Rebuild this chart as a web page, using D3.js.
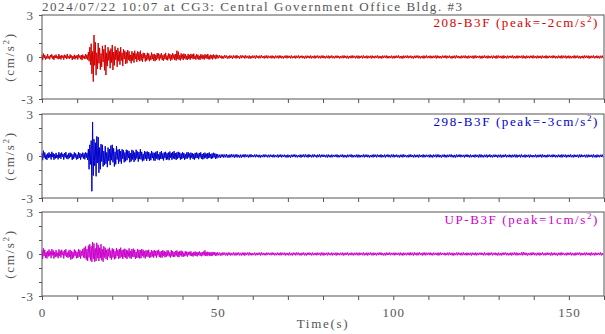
<!DOCTYPE html>
<html><head><meta charset="utf-8">
<script src="https://cdn.jsdelivr.net/npm/d3@7"></script>
<style>body{margin:0;background:#fff}svg{display:block}text{font-family:"Liberation Serif","Times New Roman",serif}</style>
</head><body><svg id="c" width="605" height="334"></svg>
<script>
const title = "2024/07/22 10:07 at CG3: Central Government Office Bldg. #3";
const channels = ["208-B3F", "298-B3F", "UP-B3F"];
const peaks = ["-2", "-3", "1"];
const colors = ["#d40000", "#0000cc", "#cc00cc"];
const xTickLabels = [0, 50, 100, 150];
const yTickLabels = [-3, 0, 3];
const strongStep = 0.2, tailStart = 50, tailStep = 0.25;

// 208-B3F, 0–50 s every 0.2 s
const ch208Strong = [
0.12,-0.22,0.25,-0.08,0.15,-0.18,0.05,-0.12,0.20,-0.10,
0.06,-0.17,0.14,-0.04,0.19,-0.13,0.08,-0.20,0.11,-0.06,
0.17,-0.09,0.04,-0.16,0.21,-0.11,0.09,-0.18,0.13,-0.05,
0.10,-0.19,0.16,-0.07,0.12,-0.15,0.22,-0.09,0.05,-0.14,
0.18,-0.06,0.11,-0.21,0.07,-0.12,0.16,-0.17,0.09,-0.08,
0.14,-0.18,0.20,-0.05,0.10,-0.16,0.13,-0.22,0.17,-0.09,
0.08,-0.15,0.21,-0.12,0.16,-0.19,0.35,-0.30,0.70,-0.55,
0.95,-1.20,0.40,-1.76,1.57,-0.60,1.05,-1.30,0.30,-0.85,
1.00,-0.45,0.65,-0.90,0.25,-0.70,0.80,-0.35,0.55,-0.95,
0.86,-1.29,0.30,-0.65,0.70,-0.25,0.45,-0.80,0.60,-0.40,
0.86,-0.93,0.35,-0.60,0.75,-0.20,0.50,-0.70,0.65,-0.30,
0.40,-0.55,0.70,-0.25,0.30,-0.65,0.55,-0.15,0.45,-0.50,
0.35,-0.45,0.50,-0.20,0.40,-0.30,0.15,-0.45,0.42,-0.25,
0.30,-0.40,0.45,-0.15,0.25,-0.35,0.40,-0.20,0.35,-0.30,
0.45,-0.25,0.20,-0.35,0.30,-0.10,0.28,-0.32,0.15,-0.25,
0.30,-0.18,0.25,-0.30,0.10,-0.22,0.32,-0.15,0.20,-0.28,
0.22,-0.30,0.15,-0.20,0.28,-0.12,0.25,-0.25,0.18,-0.10,
0.28,-0.22,0.12,-0.27,0.20,-0.15,0.30,-0.20,0.10,-0.24,
0.25,-0.12,0.22,-0.26,0.15,-0.20,0.27,-0.10,0.18,-0.22,
0.20,-0.25,0.45,-0.15,0.38,-0.20,0.12,-0.24,0.26,-0.12,
0.18,-0.22,0.24,-0.10,0.20,-0.18,0.08,-0.20,0.22,-0.14,
0.15,-0.20,0.22,-0.08,0.18,-0.16,0.24,-0.12,0.10,-0.19,
0.20,-0.12,0.16,-0.18,0.08,-0.20,0.19,-0.10,0.17,-0.15,
0.12,-0.18,0.20,-0.08,0.15,-0.14,0.22,-0.16,0.10,-0.17,
0.16,-0.10,0.14,-0.17,0.18,-0.08,0.12,-0.15,0.17,-0.11];
// 208-B3F, 50–160 s every 0.25 s
const ch208Tail = [
0.12,-0.09,0.14,-0.07,0.10,-0.13,0.08,-0.11,0.13,-0.06,0.11,-0.12,0.07,-0.10,0.12,-0.08,0.09,-0.13,0.11,-0.07,
0.10,-0.11,0.13,-0.08,0.07,-0.12,0.11,-0.09,0.12,-0.06,0.09,-0.11,0.12,-0.08,0.08,-0.10,0.11,-0.12,0.07,-0.09,
0.11,-0.08,0.09,-0.11,0.12,-0.07,0.08,-0.10,0.10,-0.09,0.12,-0.06,0.07,-0.11,0.10,-0.08,0.11,-0.10,0.09,-0.07,
0.08,-0.10,0.11,-0.09,0.07,-0.11,0.10,-0.06,0.09,-0.10,0.11,-0.08,0.10,-0.09,0.07,-0.11,0.09,-0.07,0.11,-0.10,
0.10,-0.07,0.08,-0.10,0.11,-0.09,0.06,-0.08,0.10,-0.11,0.09,-0.07,0.11,-0.10,0.08,-0.06,0.10,-0.09,0.07,-0.11,
0.09,-0.10,0.10,-0.07,0.08,-0.09,0.11,-0.10,0.07,-0.08,0.10,-0.11,0.09,-0.06,0.11,-0.09,0.08,-0.10,0.10,-0.08,
0.11,-0.09,0.07,-0.10,0.09,-0.08,0.10,-0.11,0.08,-0.07,0.11,-0.09,0.06,-0.10,0.09,-0.08,0.10,-0.07,0.08,-0.11,
0.07,-0.08,0.10,-0.09,0.11,-0.07,0.08,-0.10,0.09,-0.11,0.07,-0.08,0.10,-0.09,0.11,-0.06,0.08,-0.10,0.09,-0.09,
0.10,-0.11,0.08,-0.07,0.09,-0.10,0.11,-0.08,0.06,-0.09,0.10,-0.10,0.08,-0.07,0.09,-0.11,0.10,-0.08,0.07,-0.09,
0.09,-0.07,0.11,-0.10,0.08,-0.09,0.07,-0.11,0.10,-0.08,0.09,-0.06,0.11,-0.10,0.08,-0.09,0.07,-0.08,0.10,-0.10,
0.08,-0.10,0.09,-0.08,0.10,-0.07,0.11,-0.09,0.07,-0.10,0.08,-0.11,0.10,-0.08,0.09,-0.07,0.11,-0.09,0.08,-0.06,
0.10,-0.09,0.07,-0.11,0.09,-0.08,0.10,-0.06,0.11,-0.09,0.08,-0.10,0.07,-0.08,0.10,-0.11,0.09,-0.07,0.11,-0.09,
0.07,-0.08,0.10,-0.10,0.08,-0.09,0.09,-0.07,0.10,-0.11,0.11,-0.08,0.08,-0.09,0.07,-0.10,0.10,-0.06,0.09,-0.08,
0.11,-0.10,0.08,-0.07,0.10,-0.09,0.07,-0.11,0.09,-0.08,0.10,-0.10,0.11,-0.07,0.08,-0.09,0.06,-0.10,0.10,-0.08,
0.09,-0.08,0.11,-0.09,0.07,-0.10,0.10,-0.08,0.08,-0.07,0.09,-0.11,0.10,-0.09,0.11,-0.08,0.07,-0.06,0.09,-0.10,
0.08,-0.11,0.09,-0.07,0.11,-0.08,0.08,-0.10,0.10,-0.09,0.07,-0.08,0.09,-0.10,0.10,-0.07,0.08,-0.11,0.11,-0.09,
0.10,-0.07,0.08,-0.09,0.09,-0.11,0.11,-0.08,0.07,-0.10,0.10,-0.09,0.08,-0.06,0.09,-0.08,0.11,-0.10,0.07,-0.09,
0.09,-0.10,0.10,-0.08,0.08,-0.07,0.09,-0.10,0.11,-0.09,0.07,-0.11,0.10,-0.08,0.08,-0.09,0.09,-0.07,0.10,-0.10,
0.11,-0.08,0.07,-0.10,0.10,-0.09,0.08,-0.08,0.09,-0.11,0.10,-0.07,0.07,-0.09,0.11,-0.10,0.08,-0.08,0.09,-0.06,
0.08,-0.09,0.11,-0.07,0.09,-0.10,0.07,-0.09,0.10,-0.08,0.08,-0.10,0.11,-0.09,0.09,-0.07,0.10,-0.11,0.08,-0.08,
0.10,-0.10,0.08,-0.09,0.07,-0.08,0.11,-0.10,0.09,-0.07,0.10,-0.09,0.08,-0.11,0.07,-0.08,0.09,-0.10,0.11,-0.07,
0.09,-0.08,0.10,-0.11,0.08,-0.09,0.09,-0.07,0.11,-0.10,0.07,-0.08,0.10,-0.09,0.08,-0.10,0.09,-0.08,0.10,-0.09];

// 298-B3F
const ch298Strong = [
0.20,-0.30,0.38,-0.12,0.25,-0.22,0.10,-0.28,0.18,-0.15,
0.26,-0.10,0.15,-0.25,0.30,-0.08,0.20,-0.27,0.12,-0.18,
0.22,-0.14,0.08,-0.24,0.27,-0.12,0.18,-0.20,0.25,-0.06,
0.14,-0.26,0.21,-0.10,0.28,-0.18,0.09,-0.23,0.20,-0.15,
0.24,-0.08,0.17,-0.28,0.12,-0.20,0.26,-0.11,0.19,-0.25,
0.10,-0.22,0.28,-0.14,0.20,-0.26,0.15,-0.09,0.24,-0.19,
0.18,-0.24,0.26,-0.12,0.22,-0.28,0.50,-0.95,0.80,-0.60,
1.10,-2.52,2.43,-1.40,1.20,-0.70,0.95,-1.45,1.40,-0.50,
1.35,-1.20,0.60,-0.95,0.85,-0.40,0.80,-0.75,0.35,-0.65,
0.70,-0.55,0.25,-0.80,0.60,-0.35,0.50,-0.65,0.75,-0.30,
0.80,-0.45,0.55,-0.75,0.30,-0.60,0.70,-0.25,0.45,-0.55,
0.50,-0.40,0.35,-0.55,0.48,-0.20,0.42,-0.45,0.25,-0.38,
0.45,-0.30,0.40,-0.15,0.35,-0.45,0.20,-0.38,0.44,-0.25,
0.38,-0.42,0.25,-0.30,0.45,-0.18,0.33,-0.40,0.28,-0.22,
0.48,-0.25,0.30,-0.38,0.15,-0.32,0.35,-0.20,0.30,-0.35,
0.32,-0.20,0.28,-0.35,0.18,-0.30,0.36,-0.15,0.25,-0.32,
0.22,-0.34,0.30,-0.18,0.35,-0.25,0.12,-0.30,0.28,-0.20,
0.35,-0.22,0.18,-0.32,0.26,-0.15,0.30,-0.28,0.20,-0.24,
0.25,-0.30,0.32,-0.12,0.22,-0.27,0.28,-0.18,0.35,-0.22,
0.20,-0.28,0.26,-0.20,0.30,-0.14,0.24,-0.26,0.18,-0.22,
0.26,-0.15,0.22,-0.27,0.12,-0.20,0.25,-0.18,0.28,-0.10,
0.18,-0.25,0.24,-0.12,0.20,-0.22,0.15,-0.26,0.22,-0.16,
0.25,-0.14,0.18,-0.23,0.22,-0.10,0.26,-0.20,0.14,-0.24,
0.20,-0.18,0.24,-0.12,0.16,-0.22,0.21,-0.15,0.25,-0.13,
0.14,-0.21,0.18,-0.16,0.23,-0.10,0.19,-0.20,0.15,-0.17];
const ch298Tail = [
0.13,-0.10,0.09,-0.14,0.11,-0.08,0.12,-0.12,0.10,-0.09,0.14,-0.11,0.08,-0.12,0.11,-0.10,0.13,-0.08,0.10,-0.12,
0.11,-0.09,0.12,-0.10,0.08,-0.11,0.10,-0.12,0.09,-0.08,0.12,-0.10,0.11,-0.07,0.09,-0.11,0.10,-0.09,0.12,-0.08,
0.07,-0.08,0.10,-0.09,0.11,-0.07,0.08,-0.10,0.09,-0.11,0.07,-0.08,0.10,-0.09,0.11,-0.06,0.08,-0.10,0.09,-0.09,
0.10,-0.07,0.08,-0.10,0.11,-0.09,0.06,-0.08,0.10,-0.11,0.09,-0.07,0.11,-0.10,0.08,-0.06,0.10,-0.09,0.07,-0.11,
0.10,-0.09,0.07,-0.11,0.09,-0.08,0.10,-0.06,0.11,-0.09,0.08,-0.10,0.07,-0.08,0.10,-0.11,0.09,-0.07,0.11,-0.09,
0.11,-0.08,0.09,-0.11,0.12,-0.07,0.08,-0.10,0.10,-0.09,0.12,-0.06,0.07,-0.11,0.10,-0.08,0.11,-0.10,0.09,-0.07,
0.10,-0.07,0.08,-0.09,0.09,-0.11,0.11,-0.08,0.07,-0.10,0.10,-0.09,0.08,-0.06,0.09,-0.08,0.11,-0.10,0.07,-0.09,
0.09,-0.07,0.11,-0.10,0.08,-0.09,0.07,-0.11,0.10,-0.08,0.09,-0.06,0.11,-0.10,0.08,-0.09,0.07,-0.08,0.10,-0.10,
0.10,-0.10,0.08,-0.09,0.07,-0.08,0.11,-0.10,0.09,-0.07,0.10,-0.09,0.08,-0.11,0.07,-0.08,0.09,-0.10,0.11,-0.07,
0.09,-0.10,0.10,-0.07,0.08,-0.09,0.11,-0.10,0.07,-0.08,0.10,-0.11,0.09,-0.06,0.11,-0.09,0.08,-0.10,0.10,-0.08,
0.11,-0.10,0.08,-0.07,0.10,-0.09,0.07,-0.11,0.09,-0.08,0.10,-0.10,0.11,-0.07,0.08,-0.09,0.06,-0.10,0.10,-0.08,
0.11,-0.08,0.07,-0.10,0.10,-0.09,0.08,-0.08,0.09,-0.11,0.10,-0.07,0.07,-0.09,0.11,-0.10,0.08,-0.08,0.09,-0.06,
0.08,-0.10,0.11,-0.09,0.07,-0.11,0.10,-0.06,0.09,-0.10,0.11,-0.08,0.10,-0.09,0.07,-0.11,0.09,-0.07,0.11,-0.10,
0.08,-0.10,0.09,-0.08,0.10,-0.07,0.11,-0.09,0.07,-0.10,0.08,-0.11,0.10,-0.08,0.09,-0.07,0.11,-0.09,0.08,-0.06,
0.08,-0.11,0.09,-0.07,0.11,-0.08,0.08,-0.10,0.10,-0.09,0.07,-0.08,0.09,-0.10,0.10,-0.07,0.08,-0.11,0.11,-0.09,
0.11,-0.09,0.07,-0.10,0.09,-0.08,0.10,-0.11,0.08,-0.07,0.11,-0.09,0.06,-0.10,0.09,-0.08,0.10,-0.07,0.08,-0.11,
0.09,-0.08,0.10,-0.11,0.08,-0.09,0.09,-0.07,0.11,-0.10,0.07,-0.08,0.10,-0.09,0.08,-0.10,0.09,-0.08,0.10,-0.09,
0.10,-0.11,0.08,-0.07,0.09,-0.10,0.11,-0.08,0.06,-0.09,0.10,-0.10,0.08,-0.07,0.09,-0.11,0.10,-0.08,0.07,-0.09,
0.07,-0.08,0.10,-0.10,0.08,-0.09,0.09,-0.07,0.10,-0.11,0.11,-0.08,0.08,-0.09,0.07,-0.10,0.10,-0.06,0.09,-0.08,
0.08,-0.09,0.11,-0.07,0.09,-0.10,0.07,-0.09,0.10,-0.08,0.08,-0.10,0.11,-0.09,0.09,-0.07,0.10,-0.11,0.08,-0.08,
0.09,-0.08,0.11,-0.09,0.07,-0.10,0.10,-0.08,0.08,-0.07,0.09,-0.11,0.10,-0.09,0.11,-0.08,0.07,-0.06,0.09,-0.10,
0.09,-0.10,0.10,-0.08,0.08,-0.07,0.09,-0.10,0.11,-0.09,0.07,-0.11,0.10,-0.08,0.08,-0.09,0.09,-0.07,0.10,-0.10];

// UP-B3F
const chUpStrong = [
0.25,-0.35,0.40,-0.15,0.30,-0.28,0.12,-0.32,0.22,-0.18,
0.32,-0.12,0.18,-0.30,0.35,-0.10,0.26,-0.33,0.15,-0.22,
0.28,-0.18,0.10,-0.30,0.33,-0.15,0.24,-0.26,0.30,-0.08,
0.18,-0.32,0.27,-0.12,0.34,-0.22,0.11,-0.28,0.25,-0.20,
0.30,-0.40,0.22,-0.35,0.15,-0.25,0.32,-0.14,0.24,-0.30,
0.15,-0.28,0.35,-0.20,0.28,-0.33,0.20,-0.12,0.36,-0.25,
0.45,-0.30,0.55,-0.40,0.35,-0.50,0.60,-0.25,0.70,-0.45,
0.55,-0.57,0.86,-0.35,0.75,-0.55,0.40,-0.50,0.80,-0.30,
0.65,-0.50,0.45,-0.30,0.70,-0.45,0.35,-0.55,0.55,-0.25,
0.45,-0.35,0.30,-0.42,0.38,-0.18,0.45,-0.30,0.25,-0.40,
0.40,-0.25,0.35,-0.38,0.20,-0.32,0.42,-0.15,0.30,-0.35,
0.35,-0.30,0.45,-0.20,0.28,-0.36,0.32,-0.22,0.38,-0.28,
0.30,-0.35,0.25,-0.18,0.40,-0.30,0.22,-0.34,0.35,-0.20,
0.38,-0.22,0.30,-0.35,0.15,-0.28,0.36,-0.25,0.30,-0.32,
0.28,-0.30,0.35,-0.15,0.30,-0.25,0.20,-0.32,0.27,-0.18,
0.25,-0.20,0.30,-0.28,0.12,-0.24,0.28,-0.18,0.22,-0.26,
0.28,-0.15,0.22,-0.26,0.25,-0.10,0.30,-0.22,0.18,-0.25,
0.20,-0.26,0.27,-0.14,0.22,-0.24,0.15,-0.20,0.26,-0.12,
0.24,-0.18,0.12,-0.25,0.28,-0.16,0.20,-0.22,0.14,-0.20,
0.22,-0.12,0.25,-0.20,0.16,-0.23,0.20,-0.10,0.24,-0.18,
0.18,-0.20,0.10,-0.16,0.20,-0.12,0.17,-0.19,0.14,-0.08,
0.16,-0.12,0.19,-0.15,0.08,-0.18,0.15,-0.10,0.18,-0.14,
0.12,-0.17,0.15,-0.08,0.18,-0.13,0.10,-0.16,0.14,-0.11,
0.17,-0.10,0.26,-0.14,0.12,-0.15,0.16,-0.09,0.13,-0.15,
0.10,-0.14,0.15,-0.11,0.12,-0.08,0.14,-0.13,0.09,-0.12];
const chUpTail = [
0.12,-0.09,0.10,-0.12,0.08,-0.11,0.12,-0.07,0.10,-0.10,0.09,-0.12,0.11,-0.08,0.10,-0.11,0.07,-0.09,0.12,-0.10,
0.09,-0.11,0.10,-0.08,0.11,-0.10,0.08,-0.11,0.10,-0.09,0.11,-0.12,0.09,-0.07,0.10,-0.10,0.12,-0.09,0.08,-0.10,
0.07,-0.08,0.10,-0.10,0.08,-0.09,0.09,-0.07,0.10,-0.11,0.11,-0.08,0.08,-0.09,0.07,-0.10,0.10,-0.06,0.09,-0.08,
0.08,-0.09,0.11,-0.07,0.09,-0.10,0.07,-0.09,0.10,-0.08,0.08,-0.10,0.11,-0.09,0.09,-0.07,0.10,-0.11,0.08,-0.08,
0.08,-0.10,0.11,-0.09,0.07,-0.11,0.10,-0.06,0.09,-0.10,0.11,-0.08,0.10,-0.09,0.07,-0.11,0.09,-0.07,0.11,-0.10,
0.08,-0.11,0.09,-0.07,0.11,-0.08,0.08,-0.10,0.10,-0.09,0.07,-0.08,0.09,-0.10,0.10,-0.07,0.08,-0.11,0.11,-0.09,
0.10,-0.11,0.08,-0.07,0.09,-0.10,0.11,-0.08,0.06,-0.09,0.10,-0.10,0.08,-0.07,0.09,-0.11,0.10,-0.08,0.07,-0.09,
0.09,-0.08,0.10,-0.11,0.08,-0.09,0.09,-0.07,0.11,-0.10,0.07,-0.08,0.10,-0.09,0.08,-0.10,0.09,-0.08,0.10,-0.09,
0.09,-0.10,0.10,-0.07,0.08,-0.09,0.11,-0.10,0.07,-0.08,0.10,-0.11,0.09,-0.06,0.11,-0.09,0.08,-0.10,0.10,-0.08,
0.08,-0.10,0.09,-0.08,0.10,-0.07,0.11,-0.09,0.07,-0.10,0.08,-0.11,0.10,-0.08,0.09,-0.07,0.11,-0.09,0.08,-0.06,
0.09,-0.10,0.10,-0.08,0.08,-0.07,0.09,-0.10,0.11,-0.09,0.07,-0.11,0.10,-0.08,0.08,-0.09,0.09,-0.07,0.10,-0.10,
0.11,-0.08,0.09,-0.11,0.12,-0.07,0.08,-0.10,0.10,-0.09,0.12,-0.06,0.07,-0.11,0.10,-0.08,0.11,-0.10,0.09,-0.07,
0.09,-0.08,0.11,-0.09,0.07,-0.10,0.10,-0.08,0.08,-0.07,0.09,-0.11,0.10,-0.09,0.11,-0.08,0.07,-0.06,0.09,-0.10,
0.07,-0.08,0.10,-0.09,0.11,-0.07,0.08,-0.10,0.09,-0.11,0.07,-0.08,0.10,-0.09,0.11,-0.06,0.08,-0.10,0.09,-0.09,
0.11,-0.08,0.07,-0.10,0.10,-0.09,0.08,-0.08,0.09,-0.11,0.10,-0.07,0.07,-0.09,0.11,-0.10,0.08,-0.08,0.09,-0.06,
0.10,-0.07,0.08,-0.10,0.11,-0.09,0.06,-0.08,0.10,-0.11,0.09,-0.07,0.11,-0.10,0.08,-0.06,0.10,-0.09,0.07,-0.11,
0.10,-0.09,0.07,-0.11,0.09,-0.08,0.10,-0.06,0.11,-0.09,0.08,-0.10,0.07,-0.08,0.10,-0.11,0.09,-0.07,0.11,-0.09,
0.10,-0.10,0.08,-0.09,0.07,-0.08,0.11,-0.10,0.14,-0.07,0.10,-0.09,0.08,-0.11,0.07,-0.08,0.09,-0.10,0.11,-0.07,
0.11,-0.09,0.07,-0.10,0.09,-0.08,0.10,-0.11,0.08,-0.07,0.11,-0.09,0.06,-0.10,0.09,-0.08,0.10,-0.07,0.08,-0.11,
0.11,-0.10,0.08,-0.07,0.10,-0.09,0.07,-0.11,0.09,-0.08,0.10,-0.10,0.11,-0.07,0.08,-0.09,0.06,-0.10,0.10,-0.08,
0.09,-0.07,0.11,-0.10,0.08,-0.09,0.07,-0.11,0.10,-0.08,0.09,-0.06,0.11,-0.10,0.08,-0.09,0.07,-0.08,0.10,-0.10,
0.10,-0.07,0.08,-0.09,0.09,-0.11,0.11,-0.08,0.07,-0.10,0.10,-0.09,0.08,-0.06,0.09,-0.08,0.11,-0.10,0.07,-0.09];

const strongSeries = [ch208Strong, ch298Strong, chUpStrong];
const tailSeries = [ch208Tail, ch298Tail, chUpTail];

// ---------- drawing ----------
const svg = d3.select("#c");
const gray = "#555";
const x = d3.scaleLinear().domain([0, 160]).range([42, 604]);
const panelTops = [15, 114, 212];
const panelH = 84;

function fit(sel, w) {
  const n = sel.text().length;
  sel.attr("letter-spacing", 0);
  const L = sel.node().getComputedTextLength();
  sel.attr("letter-spacing", ((w - L) / (n - 1)).toFixed(2));
}

const t = svg.append("text").attr("x", 42).attr("y", 11)
  .attr("font-size", 13).attr("fill", gray).text(title);
fit(t, 420);

channels.forEach((name, i) => {
  const top = panelTops[i];
  const y = d3.scaleLinear().domain([-3, 3]).range([top + panelH, top]);
  const g = svg.append("g");

  const xa = d3.axisBottom(x).tickValues(d3.range(0, 161, 10)).tickSize(4).tickPadding(8)
    .tickFormat(d => (i === 2 && xTickLabels.includes(d)) ? String(d) : "");
  const gx = g.append("g").attr("transform", `translate(0,${top + panelH})`).call(xa);
  const ya = d3.axisLeft(y).tickValues(d3.range(-3, 4, 1)).tickSize(3).tickPadding(5)
    .tickFormat(d => yTickLabels.includes(d) ? String(d) : "");
  const gy = g.append("g").attr("transform", `translate(42,0)`).call(ya);
  [gx, gy].forEach(a => {
    a.select(".domain").remove();
    a.selectAll("line").attr("stroke", gray);
    a.selectAll("text").attr("fill", gray).attr("font-size", 13)
      .attr("font-family", '"Liberation Serif",serif').attr("letter-spacing", 1);
  });

  const pts = strongSeries[i].map((v, k) => [k * strongStep, v])
    .concat(tailSeries[i].map((v, k) => [tailStart + k * tailStep, v]));
  g.append("path").datum(pts)
    .attr("fill", "none").attr("stroke", colors[i]).attr("stroke-width", 1)
    .attr("d", d3.line().x(d => x(d[0])).y(d => y(d[1])));

  g.append("rect").attr("x", 42).attr("y", top).attr("width", 604 - 42).attr("height", panelH)
    .attr("fill", "none").attr("stroke", gray).attr("stroke-width", 1);

  const lab = g.append("text").attr("x", 599).attr("y", top + 12).attr("text-anchor", "end")
    .attr("font-size", 13).attr("fill", colors[i]);
  lab.append("tspan").text(`${name} (peak=${peaks[i]}cm/s`);
  lab.append("tspan").attr("dy", -5).attr("font-size", 9).text("2");
  lab.append("tspan").attr("dy", 5).text(")");
  fit(lab, i === 2 ? 153 : 164);

  const yl = g.append("text").attr("transform", `translate(14,${top + panelH / 2}) rotate(-90)`)
    .attr("text-anchor", "middle").attr("font-size", 13).attr("fill", gray);
  yl.append("tspan").text("(cm/s");
  yl.append("tspan").attr("dy", -5).attr("font-size", 9).text("2");
  yl.append("tspan").attr("dy", 5).text(")");
  fit(yl, 48);
});

const xl = svg.append("text").attr("x", 323).attr("y", 328).attr("text-anchor", "middle")
  .attr("font-size", 13).attr("fill", gray).text("Time(s)");
fit(xl, 51);
</script></body></html>
